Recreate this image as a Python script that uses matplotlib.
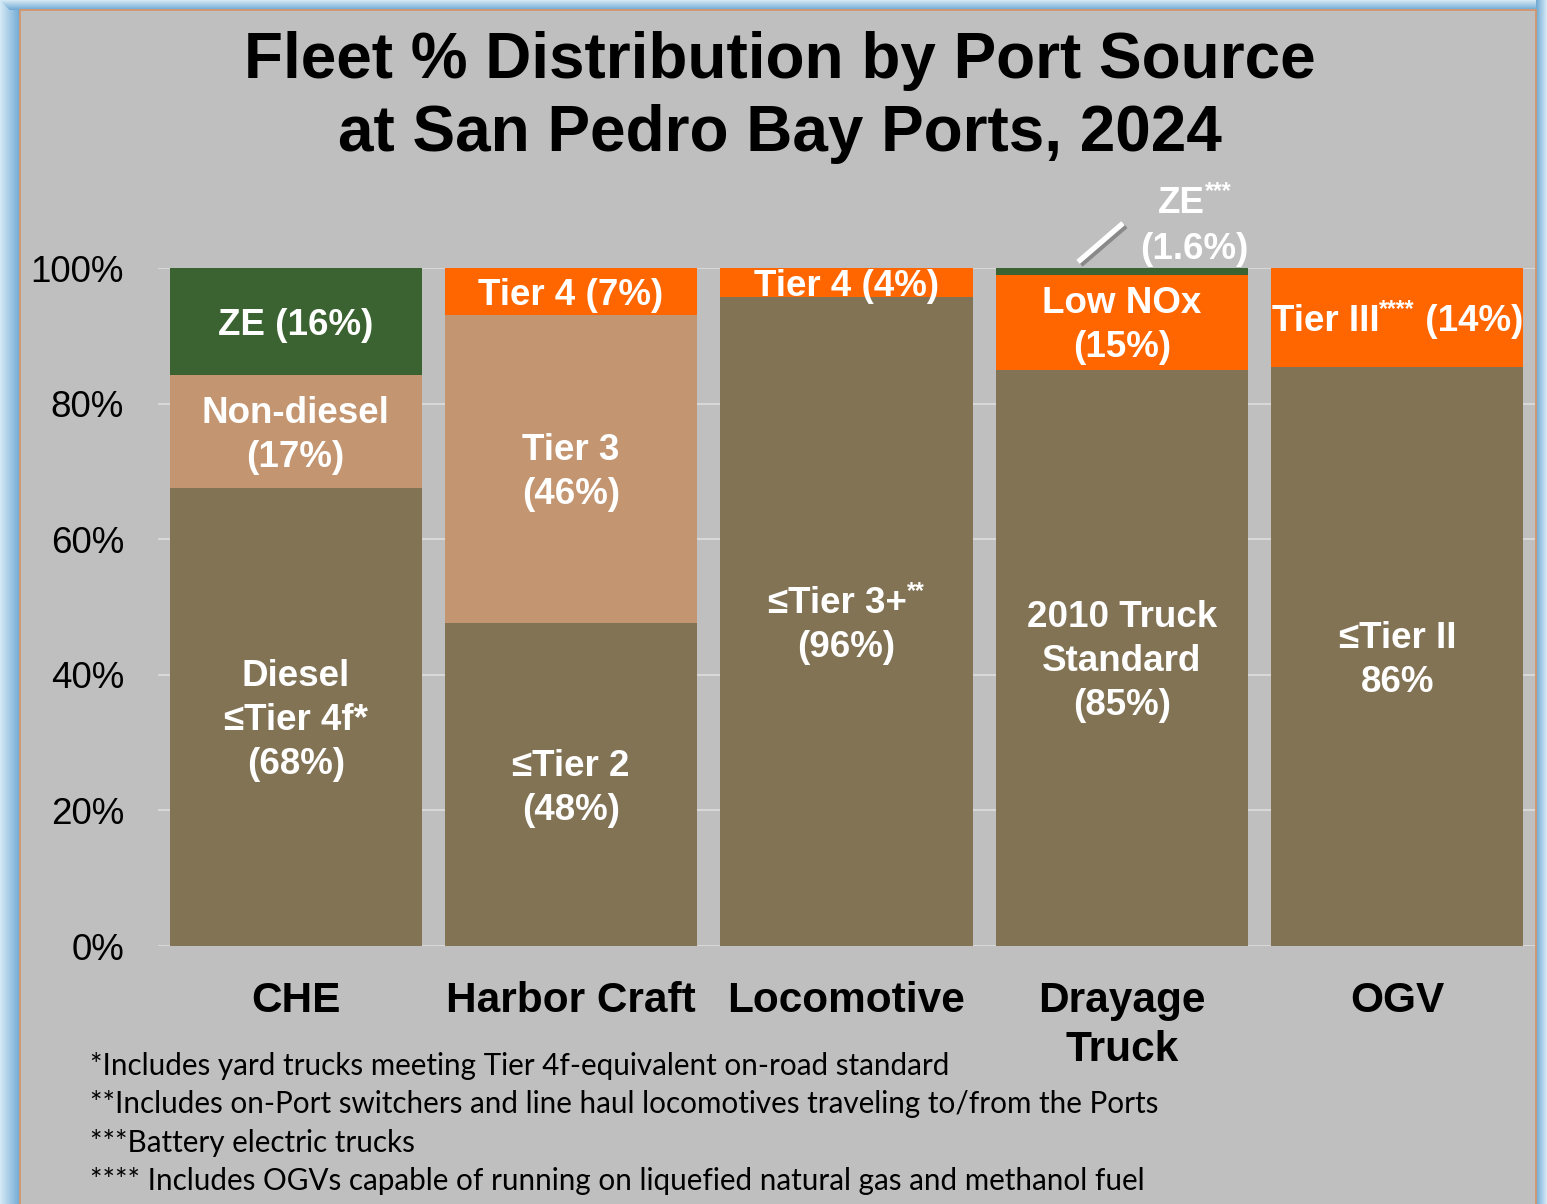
import matplotlib
matplotlib.use('Agg')
import matplotlib.pyplot as plt
import matplotlib.patheffects as pe
from matplotlib.patches import Rectangle
from matplotlib.transforms import offset_copy
import numpy as np

plt.rcParams['font.family'] = ['Liberation Sans', 'DejaVu Sans']

W, H, DPI = 1547, 1204, 100

# ---------------- data ----------------
categories = ['CHE', 'Harbor Craft', 'Locomotive', 'Drayage\nTruck', 'OGV']

che_values = [67.6, 16.6, 15.8]
harbor_values = [47.6, 45.5, 6.9]
loco_values = [95.7, 4.3]
drayage_values = [85.0, 14.0, 1.0]
ogv_values = [85.4, 14.6]
series_values = [che_values, harbor_values, loco_values, drayage_values, ogv_values]

che_kinds = ['base', 'mid', 'ze']
harbor_kinds = ['base', 'mid', 'new']
loco_kinds = ['base', 'new']
drayage_kinds = ['base', 'new', 'ze']
ogv_kinds = ['base', 'new']
series_kinds = [che_kinds, harbor_kinds, loco_kinds, drayage_kinds, ogv_kinds]

# each segment label: list of lines; each line: list of (text, 'm' main | 's' superscript)
che_labels = [
    [[('Diesel', 'm')], [('≤Tier 4f*', 'm')], [('(68%)', 'm')]],
    [[('Non-diesel', 'm')], [('(17%)', 'm')]],
    [[('ZE (16%)', 'm')]],
]
harbor_labels = [
    [[('≤Tier 2', 'm')], [('(48%)', 'm')]],
    [[('Tier 3', 'm')], [('(46%)', 'm')]],
    [[('Tier 4 (7%)', 'm')]],
]
loco_labels = [
    [[('≤Tier 3+', 'm'), ('**', 's')], [('(96%)', 'm')]],
    [[('Tier 4 (4%)', 'm')]],
]
drayage_labels = [
    [[('2010 Truck', 'm')], [('Standard', 'm')], [('(85%)', 'm')]],
    [[('Low NOx', 'm')], [('(15%)', 'm')]],
    None,
]
ogv_labels = [
    [[('≤Tier II', 'm')], [('86%', 'm')]],
    [[('Tier III', 'm'), ('****', 's'), (' (14%)', 'm')]],
]
series_labels = [che_labels, harbor_labels, loco_labels, drayage_labels, ogv_labels]

ze_callout = [[('ZE', 'm'), ('***', 's')], [('(1.6%)', 'm')]]

title_lines = ['Fleet % Distribution by Port Source', 'at San Pedro Bay Ports, 2024']
footnotes = [
    '*Includes yard trucks meeting Tier 4f-equivalent on-road standard',
    '**Includes on-Port switchers and line haul locomotives traveling to/from the Ports',
    '***Battery electric trucks',
    '**** Includes OGVs capable of running on liquefied natural gas and methanol fuel',
]
yticks = [0, 20, 40, 60, 80, 100]

colors = {'base': '#827355', 'mid': '#C39571', 'ze': '#3B6331', 'new': '#FF6600'}

# ---------------- figure ----------------
fig = plt.figure(figsize=(W / DPI, H / DPI), dpi=DPI)
fig.patch.set_facecolor('#BFBFBF')

bg = fig.add_axes([0, 0, 1, 1], zorder=-5)
bg.set_xlim(0, W)
bg.set_ylim(H, 0)
bg.axis('off')


def lerp(c1, c2, t):
    a = np.array(matplotlib.colors.to_rgb(c1))
    b = np.array(matplotlib.colors.to_rgb(c2))
    return tuple(a + (b - a) * t)


light, dark = '#D3E8F5', '#72AAD3'
for i in range(20):
    bg.add_patch(Rectangle((i, 0), 1, H, color=lerp(light, dark, i / 19), lw=0))
for i in range(10):
    bg.add_patch(Rectangle((i, i), W - 2 * i, 1, color=lerp(light, dark, i / 9), lw=0))
for i in range(11):
    bg.add_patch(Rectangle((1536 + i, 0), 1, H, color=lerp(dark, light, i / 10), lw=0))
bg.add_patch(Rectangle((20, 10), 1516, H, facecolor='#BFBFBF', edgecolor='#D3976C', lw=1.3))

ax = fig.add_axes([158 / W, 1 - 946 / H, (1535 - 158) / W, (946 - 268) / H])
ax.set_facecolor('none')
ax.set_xlim(-0.5, 4.5)
ax.set_ylim(0, 100)
for s in ax.spines.values():
    s.set_visible(False)
ax.set_yticks(yticks)
ax.set_yticklabels([f'{v}%' for v in yticks])
ax.tick_params(axis='y', length=0, pad=24.5, labelsize=26.5)
ax.set_xticks([])
ax.yaxis.grid(True, color='#D9D9D9', lw=1.4)
ax.set_axisbelow(True)

BAR_W = 0.916
for i, (vals, kinds) in enumerate(zip(series_values, series_kinds)):
    bottom = 0
    for v, k in zip(vals, kinds):
        ax.bar(i, v, width=BAR_W, bottom=bottom, color=colors[k], lw=0)
        bottom += v

renderer = fig.canvas.get_renderer()
LABEL_FS = 26.5
SUP_FS = 16.5
EM = LABEL_FS * DPI / 72
CAP = 0.716 * EM
SUP_RAISE = 15


def draw_line(x, y, dy_px, parts, color='white'):
    items = []
    for s, k in parts:
        fs = LABEL_FS if k == 'm' else SUP_FS
        t = ax.text(x, y, s, fontsize=fs, fontweight='bold', color=color,
                    ha='left', va='baseline')
        w = t.get_window_extent(renderer=renderer).width
        items.append((t, k, w))
    total = sum(w for _, _, w in items)
    cur = -total / 2
    for t, k, w in items:
        yoff = dy_px - CAP / 2 + (SUP_RAISE if k == 's' else 0)
        t.set_transform(offset_copy(ax.transData, fig=fig, x=cur, y=yoff, units='dots'))
        cur += w


def draw_block(x, y, lines, spacing=44):
    n = len(lines)
    for j, ln in enumerate(lines):
        dy = -(j - (n - 1) / 2) * spacing
        draw_line(x, y, dy, ln)


for i, (vals, labs) in enumerate(zip(series_values, series_labels)):
    bottom = 0
    for v, lab in zip(vals, labs):
        if lab is not None:
            draw_block(i, bottom + v / 2, lab)
        bottom += v

# ZE callout for drayage trucks
draw_block(3.264, 106.6, ze_callout, spacing=46)
ax.plot([2.841, 3.004], [100.9, 106.6], color='white', lw=3.8, solid_capstyle='butt',
        clip_on=False,
        path_effects=[pe.SimpleLineShadow(offset=(2, -2), shadow_color='#555555', alpha=0.5),
                      pe.Normal()])

# category labels
for i, cat in enumerate(categories):
    for j, line in enumerate(cat.split('\n')):
        base_px = 1012 + j * 49
        ax.text(i, (946 - base_px) / (946 - 268), line, transform=ax.get_xaxis_transform(),
                ha='center', va='baseline', fontsize=30.5, fontweight='bold', color='black')

# title
for line, base_px in zip(title_lines, [78, 151]):
    fig.text(780 / W, 1 - base_px / H, line, ha='center', va='baseline', fontsize=46,
             fontweight='bold', color='black')

# footnotes
for line, base_px in zip(footnotes, [1075, 1113, 1152, 1190]):
    fig.text(90 / W, 1 - base_px / H, line, ha='left', va='baseline', fontsize=21.3,
             family=['Lato', 'DejaVu Sans'], color='black')

fig.savefig('out.png', dpi=DPI, facecolor=fig.get_facecolor())
